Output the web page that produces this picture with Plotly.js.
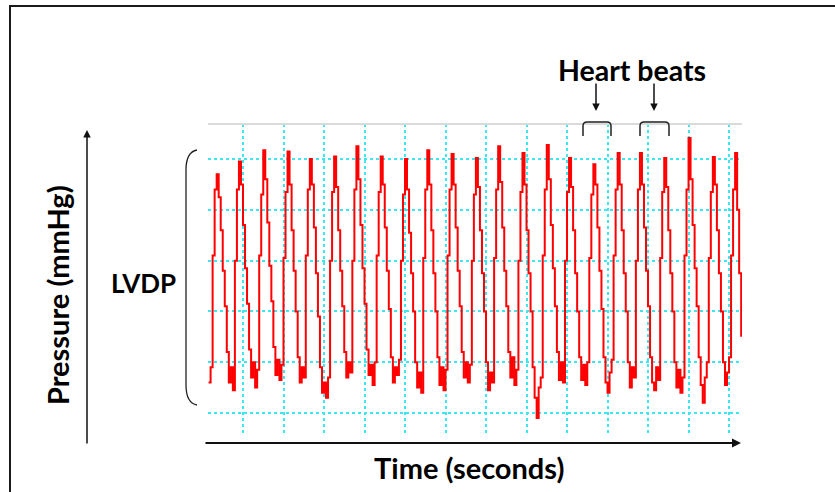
<!DOCTYPE html>
<html>
<head>
<meta charset="utf-8">
<script src="https://cdn.plot.ly/plotly-3.0.1.min.js"></script>
<style>
  html, body { margin: 0; padding: 0; background: #ffffff; }
  #chart { width: 835px; height: 492px; }
</style>
</head>
<body>
<div id="chart"></div>
<script>
// ---- Data: left-ventricular pressure trace (mmHg), sampled every 0.05 s ----
const sampleStart = -0.85;      // s
const sampleInterval = 0.05;    // s
const pressure = [
  12, 18, 62, 88, 94, 85, 72, 56, 42, 24, 12, 18, 9,
  60, 88, 99, 90, 74, 57, 43, 25, 14, 20, 10, 17,
  62, 86, 103.5, 92, 75, 58, 44, 26, 15, 21, 13, 19,
  61, 87, 103, 90, 72, 56, 40, 22, 12, 18, 14,
  62, 88, 100, 90, 73, 55, 38, 18, 8, 12, 6, 14,
  60, 87, 101, 89, 72, 56, 42, 24, 14, 20, 16,
  60, 88, 105, 92, 74, 57, 43, 25, 15, 19, 11, 20,
  62, 87, 101, 90, 73, 56, 41, 22, 12, 18, 15, 21,
  60, 86, 100, 88, 71, 55, 40, 20, 10, 16, 8,
  61, 88, 103.5, 90, 72, 55, 40, 22, 11, 18, 9, 17,
  62, 88, 102, 90, 73, 56, 42, 24, 14, 20, 12, 19,
  60, 86, 100.4, 89, 72, 55, 40, 20, 9, 16, 12,
  61, 88, 105, 91, 73, 56, 42, 24, 14, 22, 11, 17,
  60, 87, 102.4, 90, 72, 55, 40, 18, 6, -2, 10, 14,
  62, 88, 105.5, 92, 74, 57, 42, 24, 13, 20, 12,
  60, 87, 100.4, 89, 72, 55, 40, 22, 13, 19, 11, 20,
  61, 86, 98, 90, 73, 56, 41, 22, 12, 8, 16, 21,
  62, 88, 102.4, 90, 72, 55, 40, 20, 10, 18, 14,
  60, 88, 102.4, 90, 73, 56, 42, 22, 12, 9, 18, 13,
  61, 87, 100.4, 89, 72, 55, 40, 20, 10, 17, 8, 14,
  62, 88, 108.3, 92, 74, 57, 42, 22, 11, 4, 14, 20,
  61, 87, 100.8, 90, 72, 55, 40, 20, 11, 16, 22,
  62, 88, 102.4, 80, 55, 30
];

// ---- Text ----
const yTitle = "Pressure (mmHg)";
const xTitle = "Time (seconds)";
const rangeLabel = "LVDP";
const beatLabel = "Heart beats";

// ---- Layout helpers (pixel -> paper) ----
const L = 208, R = 742, T = 124, B = 436;
const W = 835, H = 492;
const X = px => (px - L) / (R - L);
const Y = py => (B - py) / (B - T);

const FONT = "Lato, 'Open Sans', sans-serif";
const gridCol = "#3ee6f2";

const trace = {
  type: "scatter",
  mode: "lines",
  y: pressure,
  x0: sampleStart,
  dx: sampleInterval,
  line: { color: "#ff0000", width: 2, shape: "hv" },
  hoverinfo: "skip"
};

function bracket(x1, x2) {
  return {
    type: "path", xref: "paper", yref: "paper",
    path: `M ${X(x1)},${Y(136)} L ${X(x1)},${Y(126)} Q ${X(x1)},${Y(122)} ${X(x1+4)},${Y(122)} ` +
          `L ${X(x2-4)},${Y(122)} Q ${X(x2)},${Y(122)} ${X(x2)},${Y(126)} L ${X(x2)},${Y(136)}`,
    line: { color: "#222", width: 1.5 }
  };
}

const layout = {
  width: W, height: H,
  margin: { l: L, r: W - R, t: T, b: H - B, pad: 0 },
  paper_bgcolor: "#ffffff",
  plot_bgcolor: "rgba(0,0,0,0)",
  showlegend: false,
  xaxis: {
    range: [-0.864, 12.32], tick0: 0, dtick: 1,
    showgrid: true, gridcolor: gridCol, gridwidth: 2, griddash: "dot",
    showticklabels: false, ticks: "", zeroline: false, showline: false, fixedrange: true
  },
  yaxis: {
    range: [-9.05, 113.8], tick0: 0, dtick: 20,
    showgrid: true, gridcolor: gridCol, gridwidth: 2, griddash: "dot",
    showticklabels: false, ticks: "", zeroline: false, showline: false, fixedrange: true
  },
  shapes: [
    // outer frame
    { type: "path", xref: "paper", yref: "paper",
      path: `M ${X(10)},${Y(492)} L ${X(10)},${Y(6)} L ${X(835)},${Y(6)}`,
      line: { color: "#1a1a1a", width: 2 } },
    // top light line
    { type: "line", xref: "paper", yref: "paper", x0: 0, x1: 1, y0: 1, y1: 1,
      line: { color: "#dadada", width: 2 } },
    // LVDP brace
    { type: "path", xref: "paper", yref: "paper",
      path: `M ${X(197)},${Y(150)} Q ${X(186)},${Y(152)} ${X(186)},${Y(170)} L ${X(186)},${Y(385)} Q ${X(186)},${Y(403)} ${X(197)},${Y(405)}`,
      line: { color: "#222", width: 1.3 } },
    bracket(583, 611),
    bracket(640, 669)
  ],
  annotations: [
    { xref: "paper", yref: "paper", x: X(57), y: Y(295), text: "<b>" + yTitle + "</b>",
      textangle: -90, showarrow: false, font: { family: FONT, size: 29, color: "#000" },
      xanchor: "center", yanchor: "middle" },
    { xref: "paper", yref: "paper", x: X(143), y: Y(283), text: "<b>" + rangeLabel + "</b>",
      showarrow: false, font: { family: FONT, size: 26, color: "#000" },
      xanchor: "center", yanchor: "middle" },
    { xref: "paper", yref: "paper", x: X(469), y: Y(467), text: "<b>" + xTitle + "</b>",
      showarrow: false, font: { family: FONT, size: 29, color: "#000" },
      xanchor: "center", yanchor: "middle" },
    { xref: "paper", yref: "paper", x: X(632), y: Y(70), text: "<b>" + beatLabel + "</b>",
      showarrow: false, font: { family: FONT, size: 28.5, color: "#000" },
      xanchor: "center", yanchor: "middle" },
    // arrows
    { xref: "paper", yref: "paper", x: X(87), y: Y(130), text: "", showarrow: true,
      ax: 0, ay: 315, arrowhead: 2, arrowsize: 1, arrowwidth: 1.5, arrowcolor: "#111" },
    { xref: "paper", yref: "paper", x: X(741), y: Y(443), text: "", showarrow: true,
      ax: -537, ay: 0, arrowhead: 2, arrowsize: 1, arrowwidth: 1.8, arrowcolor: "#111" },
    { xref: "paper", yref: "paper", x: X(596), y: Y(111), text: "", showarrow: true,
      ax: 0, ay: -29, arrowhead: 2, arrowsize: 1, arrowwidth: 1.5, arrowcolor: "#111" },
    { xref: "paper", yref: "paper", x: X(654), y: Y(111), text: "", showarrow: true,
      ax: 0, ay: -29, arrowhead: 2, arrowsize: 1, arrowwidth: 1.5, arrowcolor: "#111" }
  ]
};

Plotly.newPlot("chart", [trace], layout, { staticPlot: true, displayModeBar: false });
</script>
</body>
</html>
